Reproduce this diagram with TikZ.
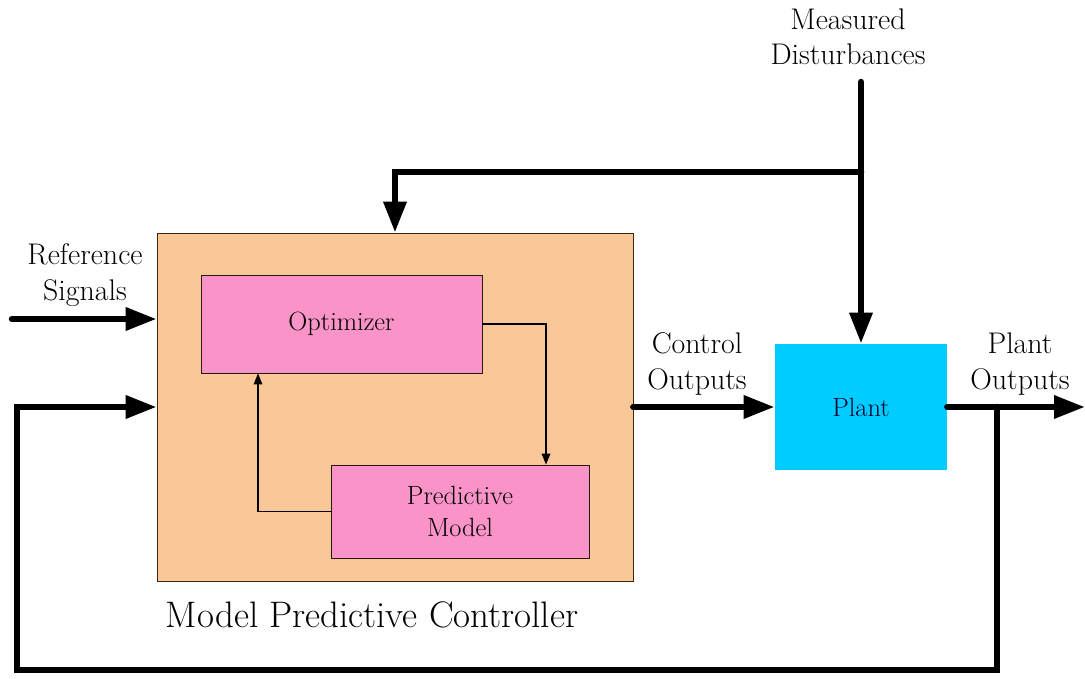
\documentclass[tikz,border=0pt]{standalone}
\usetikzlibrary{arrows.meta}

\definecolor{mpcOrange}{HTML}{FAC898}
\definecolor{optPink}{HTML}{F993C8}
\definecolor{plantCyan}{HTML}{00CCFF}

\begin{document}
\begin{tikzpicture}[
    every node/.style={font=\fontsize{17}{20}\selectfont, align=center},
    mpcBox/.style={rectangle, draw=black!70!brown, fill=mpcOrange, minimum width=9.52cm, minimum height=6.96cm},
    innerBox/.style={rectangle, draw=black!80!brown, fill=optPink, font=\fontsize{15}{18.5}\selectfont},
    plantBox/.style={rectangle, fill=plantCyan, minimum width=3.44cm, minimum height=2.52cm, font=\fontsize{15}{18.5}\selectfont, text=black!80!blue},
    bigArrow/.style={draw, line width=3.7pt, line cap=round, -{Triangle[length=6.2mm, width=4.4mm]}},
    smallArrow/.style={draw, line width=0.9pt, -{Triangle[length=2.2mm, width=1.7mm]}}
]
    \useasboundingbox (0,0) rectangle (21.7,13.56);

    \node[mpcBox] (mpc) at (7.9,5.42) {};
    \node[innerBox, minimum width=5.62cm, minimum height=1.96cm] (opt) at (6.83,7.08) {Optimizer};
    \node[innerBox, minimum width=5.16cm, minimum height=1.86cm] (pred) at (9.2,3.33) {Predictive\\Model};
    \node[plantBox] (plant) at (17.22,5.42) {Plant};

    \node (mpcLabel) at (7.44,1.26) {\fontsize{21}{25}\selectfont Model Predictive Controller};
    \node (mdLabel) at (16.96,12.82) {Measured\\Disturbances};
    \node (refLabel) at (1.7,8.06) {Reference\\Signals};
    \node (ctrlLabel) at (13.94,6.28) {Control\\Outputs};
    \node (outLabel) at (20.4,6.28) {Plant\\Outputs};

    \coordinate (mdTop) at (17.22,11.92);
    \coordinate (mdJoin) at (17.22,10.12);
    \coordinate (refStart) at (0.24,7.18);
    \coordinate (fbJoin) at (19.94,5.42);
    \coordinate (outEnd) at (21.7,5.42);
    \coordinate (fbLeft) at (0.34,0.16);

    % disturbances into plant and controller
    \draw[bigArrow] (mdTop) -- (plant.north);
    \draw[bigArrow] (mdJoin) -| (mpc.north);

    % signal path
    \draw[bigArrow] (refStart) -- (refStart -| mpc.west);
    \draw[bigArrow] (mpc.east) -- (plant.west);
    \draw[bigArrow] (plant.east) -- (outEnd);
    \draw[bigArrow] (fbJoin) |- (fbLeft) |- (mpc.west);

    % inside the controller
    \draw[smallArrow] (opt.east) -| ([xshift=1.72cm]pred.north);
    \draw[smallArrow] (pred.west) -| ([xshift=-1.67cm]opt.south);
\end{tikzpicture}
\end{document}
